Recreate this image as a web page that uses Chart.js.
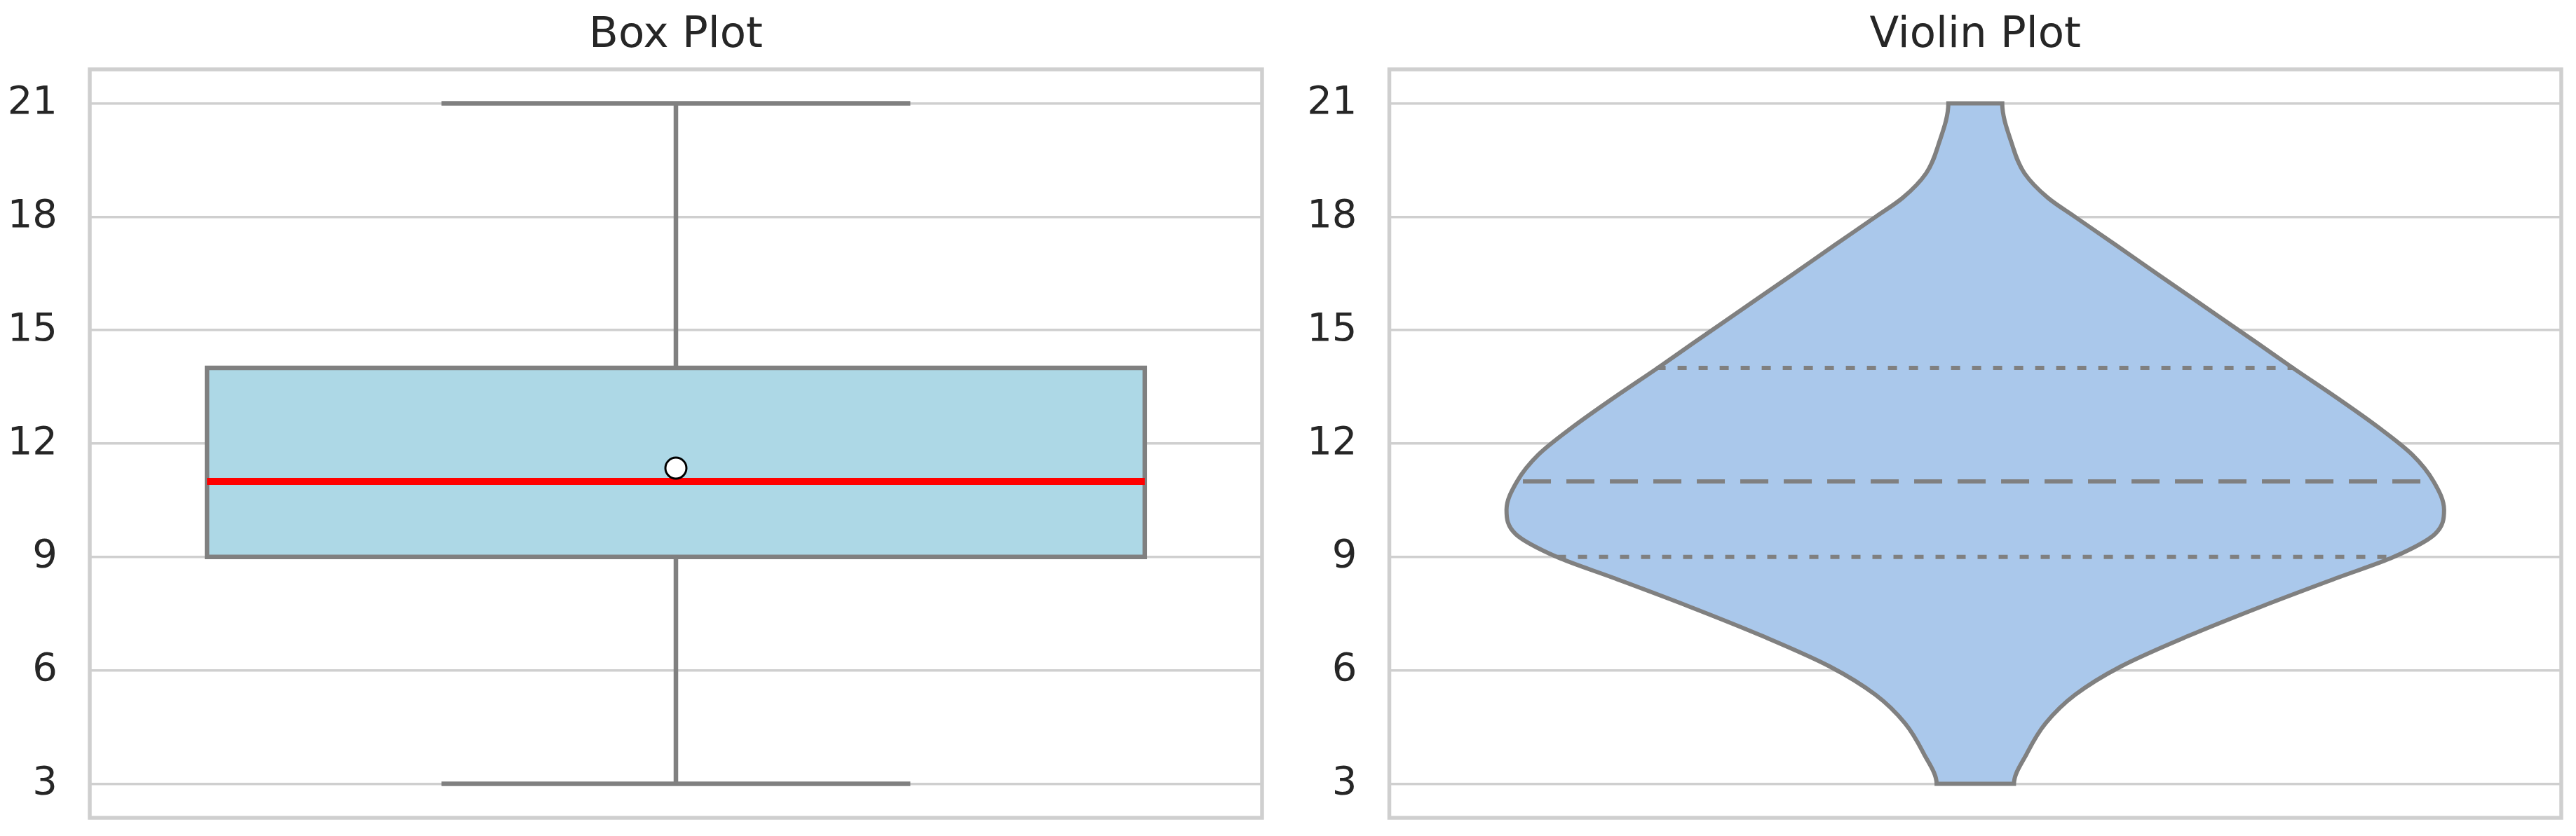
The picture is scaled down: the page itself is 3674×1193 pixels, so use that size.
<!DOCTYPE html>
<html>
<head>
<meta charset="utf-8">
<title>Box Plot / Violin Plot</title>
<script src="https://cdn.jsdelivr.net/npm/chart.js@4.4.0/dist/chart.umd.min.js"></script>
<style>
  html, body { margin: 0; padding: 0; background: #ffffff; overflow: hidden; }
  #wrap { position: relative; width: 3674px; height: 1193px; overflow: hidden; }
  canvas { position: absolute; top: 0; }
  #boxChart { left: 0; }
  #violinChart { left: 1850px; }
</style>
</head>
<body>
<div id="wrap">
  <canvas id="boxChart" width="1920" height="1193"></canvas>
  <canvas id="violinChart" width="1923" height="1193"></canvas>
</div>
<script>
// shared y axis
const yTicks = [3, 6, 9, 12, 15, 18, 21];
const yMin = 2.1;
const yMax = 21.9;

// box plot stats
const boxWhiskerLow = 3;
const boxQ1 = 9;
const boxMedian = 11;
const boxQ3 = 14;
const boxWhiskerHigh = 21;
const boxMean = 11.35;

// violin outline: value on y, half width of the body (category is 1 wide)
const violinValues = [3, 3.8, 4.6, 5.35, 6.1, 6.9, 7.7, 8.45, 9, 9.6, 10.25, 11, 11.7, 12.45, 13.2, 14, 14.65, 15.55, 16.45, 17.25, 18, 18.5, 19.15, 19.95, 21];
const violinHalfWidths = [0.033, 0.044, 0.06, 0.085, 0.124, 0.181, 0.245, 0.309, 0.357, 0.392, 0.4, 0.391, 0.373, 0.343, 0.309, 0.271, 0.241, 0.199, 0.157, 0.12, 0.085, 0.062, 0.042, 0.031, 0.023];

// inner quartile lines of the violin (q1, median, q3)
const quartileValues = [9, 11, 14];
const quartileHalfWidths = [0.357, 0.386, 0.272];

const textColor = '#262626';
const gridColor = '#cfcfcf';
const edgeColor = '#808080';
const boxHalf = 0.4;
const capHalf = 0.2;
const axisWidth = 120;

Chart.defaults.font.family = "'DejaVu Sans', sans-serif";

// matplotlib style frame round the plot area
const frame = {
    id: 'frame',
    afterDraw(chart) {
        const { ctx, chartArea: a } = chart;
        ctx.save();
        ctx.strokeStyle = gridColor;
        ctx.lineWidth = 5.5;
        ctx.strokeRect(a.left, a.top, a.right - a.left, a.bottom - a.top);
        ctx.restore();
    }
};

function fixWidth(s) {
    s.width = axisWidth;
    s.paddingTop = 0;
    s.paddingBottom = 0;
}

function panelOptions(title, padLeft) {
    return {
        responsive: false,
        animation: false,
        devicePixelRatio: 1,
        layout: { padding: { left: padLeft, right: 0, top: 0, bottom: 26 } },
        plugins: {
            legend: { display: false },
            tooltip: { enabled: false },
            title: {
                display: true,
                text: title,
                color: textColor,
                font: { size: 61, weight: 'normal', lineHeight: 1.2 },
                padding: { top: 15, bottom: 10.8 }
            }
        },
        scales: {
            x: { type: 'linear', min: -0.5, max: 0.5, display: false },
            y: {
                type: 'linear',
                min: yMin,
                max: yMax,
                afterBuildTicks: s => { s.ticks = yTicks.map(v => ({ value: v })); },
                afterFit: fixWidth,
                grid: { color: gridColor, lineWidth: 3.5, drawTicks: false },
                border: { display: false },
                ticks: { color: textColor, padding: 46, font: { size: 56 } }
            },
            // empty axis on the right so the title centres over the plot area
            yPad: {
                type: 'linear',
                position: 'right',
                min: yMin,
                max: yMax,
                afterFit: fixWidth,
                grid: { display: false, drawTicks: false },
                border: { display: false },
                ticks: { display: false }
            }
        },
        elements: { point: { radius: 0 }, line: { borderCapStyle: 'butt', borderJoinStyle: 'miter' } }
    };
}

function seg(points, color, width, order, extra) {
    return Object.assign({
        data: points,
        borderColor: color,
        borderWidth: width,
        fill: false,
        tension: 0,
        pointRadius: 0,
        order: order
    }, extra || {});
}

// ---- box plot ----
const boxOutline = [
    { x: 0, y: boxQ1 }, { x: boxHalf, y: boxQ1 }, { x: boxHalf, y: boxQ3 },
    { x: -boxHalf, y: boxQ3 }, { x: -boxHalf, y: boxQ1 }, { x: 0, y: boxQ1 }
];

new Chart(document.getElementById('boxChart'), {
    type: 'line',
    data: {
        datasets: [
            seg([{ x: 0, y: boxMean }], '#000000', 0, 0, {
                showLine: false, pointRadius: 15, pointBackgroundColor: '#ffffff',
                pointBorderColor: '#000000', pointBorderWidth: 3
            }),
            seg([{ x: -boxHalf, y: boxMedian }, { x: boxHalf, y: boxMedian }], '#ff0000', 10, 1),
            seg(boxOutline, edgeColor, 6.5, 2, { fill: 'shape', backgroundColor: '#add8e6' }),
            seg([{ x: 0, y: boxWhiskerLow }, { x: 0, y: boxQ1 }], edgeColor, 6.5, 3),
            seg([{ x: 0, y: boxQ3 }, { x: 0, y: boxWhiskerHigh }], edgeColor, 6.5, 3),
            seg([{ x: -capHalf, y: boxWhiskerLow }, { x: capHalf, y: boxWhiskerLow }], edgeColor, 6.5, 3),
            seg([{ x: -capHalf, y: boxWhiskerHigh }, { x: capHalf, y: boxWhiskerHigh }], edgeColor, 6.5, 3)
        ]
    },
    options: panelOptions('Box Plot', 8),
    plugins: [frame]
});

// ---- violin plot ----
const lo = violinValues[0];
const hi = violinValues[violinValues.length - 1];
const rightSide = violinValues.map((v, i) => ({ x: violinHalfWidths[i], y: v }));
const leftSide = violinValues.map((v, i) => ({ x: -violinHalfWidths[i], y: v })).reverse();
const violinPath = [{ x: 0, y: lo }, ...rightSide, { x: 0, y: hi }, ...leftSide, { x: 0, y: lo }];

const innerLines = quartileValues.map((v, i) => seg(
    [{ x: -quartileHalfWidths[i], y: v }, { x: quartileHalfWidths[i], y: v }],
    edgeColor, 6, 0,
    { borderDash: i === 1 ? [40, 22] : [13, 17] }
));

const violinOptions = panelOptions('Violin Plot', 11.5);
// value runs along y, so the smooth outline is built along that axis
violinOptions.indexAxis = 'y';

new Chart(document.getElementById('violinChart'), {
    type: 'line',
    data: {
        datasets: [
            ...innerLines,
            seg(violinPath, edgeColor, 6, 1, {
                fill: 'shape', backgroundColor: '#aac8eb', cubicInterpolationMode: 'monotone'
            })
        ]
    },
    options: violinOptions,
    plugins: [frame]
});
</script>
</body>
</html>
